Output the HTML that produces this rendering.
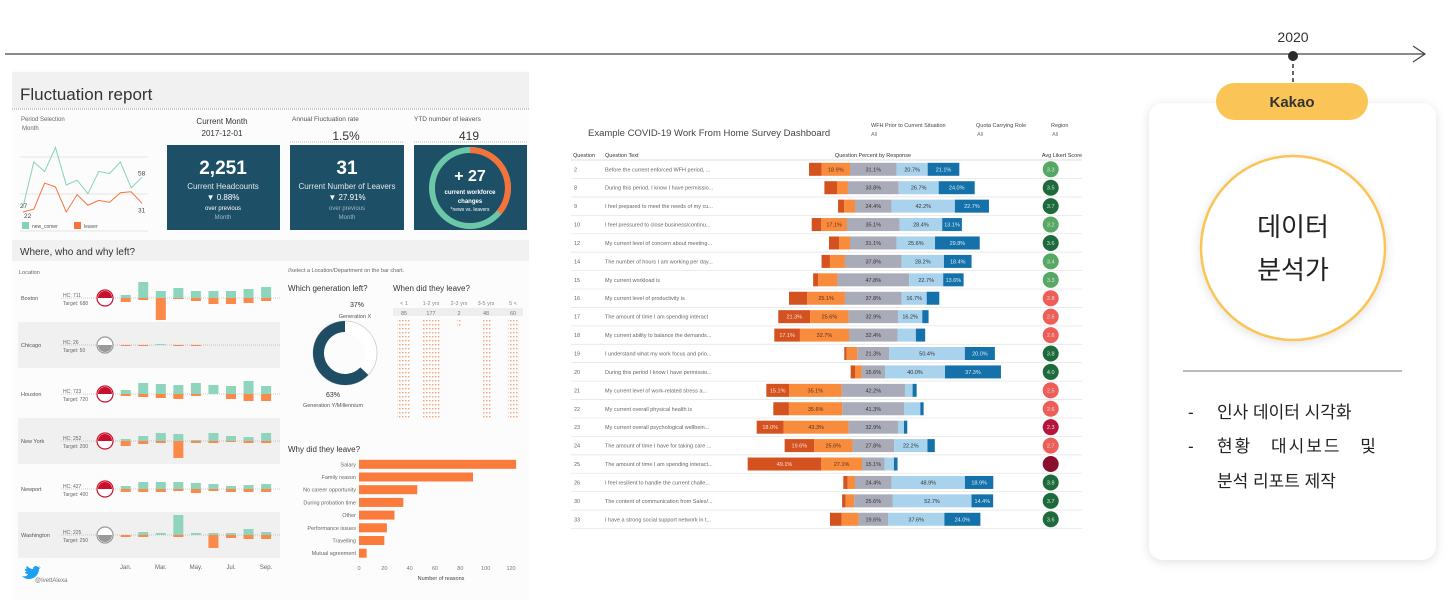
<!DOCTYPE html>
<html><head><meta charset="utf-8">
<style>
html,body{margin:0;padding:0;background:#fff;width:1448px;height:609px;overflow:hidden}
svg{display:block;font-family:"Liberation Sans","Noto Sans CJK KR",sans-serif}
.k{font-family:"Liberation Sans","Noto Sans CJK KR",sans-serif}
</style></head>
<body>
<svg id="s" width="1448" height="609" viewBox="0 0 1448 609" xmlns="http://www.w3.org/2000/svg">
<defs>
<filter id="sh" x="-10%" y="-10%" width="120%" height="120%"><feDropShadow dx="0" dy="2" stdDeviation="5" flood-color="#000" flood-opacity="0.12"/></filter>
<pattern id="dots" width="3" height="4" patternUnits="userSpaceOnUse"><rect width="1.4" height="1.4" fill="#f4a27a"/></pattern>
</defs>
<g>
<line x1="5" y1="54" x2="1425" y2="54" stroke="#444" stroke-width="1.2"/>
<polyline points="1413,46 1425,54 1413,62" fill="none" stroke="#444" stroke-width="1.2"/>
<line x1="1293" y1="57" x2="1293" y2="84" stroke="#333" stroke-width="1.5" stroke-dasharray="4,3"/>
<circle cx="1293" cy="56" r="5" fill="#2b2b2b"/>
<text x="1293" y="42" font-size="14" text-anchor="middle" fill="#333">2020</text>
</g>
<g>
<rect x="1149" y="103" width="287" height="457" rx="14" fill="#fff" filter="url(#sh)"/>
<rect x="1216" y="83" width="152" height="37" rx="18.5" fill="#fbc457"/>
<text x="1292" y="107" font-size="15" font-weight="bold" text-anchor="middle" fill="#333">Kakao</text>
<circle cx="1293" cy="248" r="92" fill="#fff" stroke="#fbc457" stroke-width="2.5" filter="url(#sh)"/>
<text x="1293" y="236" font-size="26" text-anchor="middle" fill="#222" class="k">데이터</text>
<text x="1293" y="279" font-size="26" text-anchor="middle" fill="#222" class="k">분석가</text>
<line x1="1183" y1="371" x2="1402" y2="371" stroke="#777" stroke-width="1"/>
<text x="1188" y="418" font-size="17" fill="#222" class="k">-</text>
<text x="1217" y="418" font-size="17" fill="#222" class="k">인사 데이터 시각화</text>
<text x="1188" y="452" font-size="17" fill="#222" class="k">-</text>
<text x="1217" y="452" font-size="17" fill="#222" class="k" word-spacing="12" letter-spacing="2">현황 대시보드 및</text>
<text x="1217" y="487" font-size="17" fill="#222" class="k">분석 리포트 제작</text>
</g>
<g id="left">
<rect x="12" y="70" width="517" height="530" fill="#fcfcfc"/>
<rect x="12" y="72" width="517" height="36" fill="#f1f1f2"/>
<text x="20" y="100" font-size="17" fill="#333">Fluctuation report</text>
<line x1="12" y1="109" x2="529" y2="109" stroke="#999" stroke-dasharray="1,1"/>
<text x="21" y="121" font-size="6" fill="#666">Period Selection</text>
<text x="22" y="130" font-size="6" fill="#666">Month</text>
<text x="222" y="124" font-size="8" fill="#333" text-anchor="middle">Current Month</text>
<text x="222" y="136" font-size="8" fill="#333" text-anchor="middle">2017-12-01</text>
<text x="292" y="121" font-size="6.5" fill="#555">Annual Fluctuation rate</text>
<text x="346" y="140" font-size="12" fill="#333" text-anchor="middle">1.5%</text>
<text x="414" y="121" font-size="6.5" fill="#555">YTD number of leavers</text>
<text x="469" y="140" font-size="12" fill="#333" text-anchor="middle">419</text>
<line x1="290" y1="142" x2="404" y2="142" stroke="#bbb" stroke-dasharray="1,1"/>
<line x1="414" y1="142" x2="527" y2="142" stroke="#bbb" stroke-dasharray="1,1"/>
<g>
<rect x="167" y="145" width="113" height="85" fill="#1d4f67"/>
<text x="223" y="174" font-size="19" font-weight="bold" fill="#fff" text-anchor="middle">2,251</text>
<text x="223" y="189" font-size="8" fill="#dfe9ee" text-anchor="middle">Current Headcounts</text>
<text x="223" y="200" font-size="8" fill="#fff" text-anchor="middle">▼ 0.88%</text>
<text x="223" y="210" font-size="6" fill="#fff" text-anchor="middle">over previous</text>
<text x="223" y="219" font-size="6" fill="#9fb8c6" text-anchor="middle">Month</text>
</g>
<g>
<rect x="290" y="145" width="114" height="85" fill="#1d4f67"/>
<text x="347" y="174" font-size="19" font-weight="bold" fill="#fff" text-anchor="middle">31</text>
<text x="347" y="189" font-size="8" fill="#dfe9ee" text-anchor="middle">Current Number of Leavers</text>
<text x="347" y="200" font-size="8" fill="#fff" text-anchor="middle">▼ 27.91%</text>
<text x="347" y="210" font-size="6" fill="#9fb8c6" text-anchor="middle">over previous</text>
<text x="347" y="219" font-size="6" fill="#9fb8c6" text-anchor="middle">Month</text>
</g>
<g>
<rect x="414" y="145" width="113" height="85" fill="#1d4f67"/>
<circle cx="470" cy="188" r="38" fill="none" stroke="#6cc7a6" stroke-width="6"/>
<path d="M470 150 A38 38 0 0 1 499 212.5" fill="none" stroke="#f5733a" stroke-width="6"/>
<text x="470" y="181" font-size="16" font-weight="bold" fill="#fff" text-anchor="middle">+ 27</text>
<text x="470" y="194" font-size="6" font-weight="bold" fill="#fff" text-anchor="middle">current workforce</text>
<text x="470" y="203" font-size="6" font-weight="bold" fill="#fff" text-anchor="middle">changes</text>
<text x="470" y="211" font-size="5" fill="#fff" text-anchor="middle">*news vs. leavers</text>
</g>
<g id="linechart"></g>
<rect x="12" y="240" width="517" height="21" fill="#f1f1f2"/>
<text x="20" y="255" font-size="10" fill="#333">Where, who and why left?</text>
<text x="19" y="274" font-size="5.5" fill="#666">Location</text>
<g id="loc"></g>
<text x="288" y="272" font-size="5.5" fill="#666">//select a Location/Department on the bar chart.</text>
<text x="288" y="291" font-size="8" fill="#333">Which generation left?</text>
<g>
<circle cx="345" cy="353" r="26" fill="none" stroke="#fff" stroke-width="12"/>
<circle cx="345" cy="353" r="32" fill="none" stroke="#ccc" stroke-width="0.8"/>
<path id="gendonut" fill="#1e4d64"/>
<text x="357" y="307" font-size="7" fill="#333" text-anchor="middle">37%</text>
<text x="355" y="318" font-size="5.5" fill="#555" text-anchor="middle">Generation X</text>
<text x="333" y="397" font-size="7" fill="#333" text-anchor="middle">63%</text>
<text x="333" y="407" font-size="5.5" fill="#555" text-anchor="middle">Generation Y/Millennium</text>
</g>
<text x="393" y="291" font-size="8" fill="#333">When did they leave?</text>
<g id="tenure"></g>
<text x="288" y="452" font-size="8" fill="#333">Why did they leave?</text>
<g id="why"></g>
<path d="M22 576 c3 1 5 0 6-2 c-2 0 -3-1 -3-2 c1 0 1 0 2 0 c-2-1-2-2-2-3 c1 0 1 0 2 1 c-1-1-1-3 0-4 c2 2 4 3 6 3 c0-3 3-4 5-2 c1 0 2-1 2-1 c0 1-1 1-1 2 c1 0 1 0 2-1 c0 1-1 1-2 2 c0 5-4 10-10 10 c-3 0-5-1-7-3z" fill="#1da1f2"/>
<text x="35" y="582" font-size="6" fill="#777">@IvettAlexa</text>
</g>
<g id="covid">
<text x="588" y="136" font-size="9.5" fill="#444">Example COVID-19 Work From Home Survey Dashboard</text>
<text x="871" y="127" font-size="5.5" fill="#444">WFH Prior to Current Situation</text>
<text x="871" y="136" font-size="5.5" fill="#777">All</text>
<text x="976" y="127" font-size="5.5" fill="#444">Quota Carrying Role</text>
<text x="977" y="136" font-size="5.5" fill="#777">All</text>
<text x="1051" y="127" font-size="5.5" fill="#444">Region</text>
<text x="1052" y="136" font-size="5.5" fill="#777">All</text>
<text x="573" y="157" font-size="5.5" fill="#333">Question</text>
<text x="605" y="157" font-size="5.5" fill="#333">Question Text</text>
<text x="873" y="157" font-size="5.5" fill="#333" text-anchor="middle">Question Percent by Response</text>
<text x="1062" y="157" font-size="5.5" fill="#333" text-anchor="middle">Avg Likert Score</text>
</g>
</svg>
<script>
const qIds=[2,8,9,10,12,14,15,16,17,18,19,20,21,22,23,24,25,26,30,33];
const qTexts=["Before the current enforced WFH period, ...","During this period, I know I have permissio...","I feel prepared to meet the needs of my cu...","I feel pressured to close business/continu...","My current level of concern about meeting...","The number of hours I am working per day...","My current workload is","My current level of productivity is","The amount of time I am spending interact","My current ability to balance the demands...","I understand what my work focus and prio...","During this period I know I have permissio...","My current level of work-related stress a...","My current overall physical health is","My current overall psychological wellbein...","The amount of time I have for taking care ...","The amount of time I am spending interact...","I feel resilient to handle the current challe...","The content of communication from Sales/...","I have a strong social support network in t..."];
const strongNeg=[8.4,8.4,4.0,6.4,6.7,5.6,3.3,12.2,21.3,17.1,1.6,2.9,15.1,10.4,18.0,19.6,49.1,2.9,2.4,7.8];
const negative=[18.9,7.3,7.3,17.1,7.3,10.0,12.9,25.1,25.6,32.7,7.1,4.4,35.1,35.6,43.3,25.6,27.1,4.9,5.6,11.3];
const neutral=[31.1,33.8,24.4,35.1,31.1,37.8,47.8,37.8,32.9,32.4,21.3,15.6,42.2,41.3,32.9,27.8,15.1,24.4,25.6,19.6];
const positive=[20.7,26.7,42.2,28.4,25.6,28.2,22.7,16.7,16.2,12.2,50.4,40.0,5.1,10.7,4.0,22.2,6.2,48.9,52.7,37.6];
const strongPos=[21.1,24.0,22.7,13.1,29.8,18.4,13.6,8.4,4.2,6.2,20.0,37.3,2.7,2.2,2.2,4.9,2.4,18.9,14.4,24.0];
const likert=[3.3,3.5,3.7,3.2,3.6,3.4,3.3,2.8,2.6,2.6,3.8,4.0,2.5,2.6,2.3,2.7,2.0,3.8,3.7,3.6];
const locations=["Boston","Chicago","Houston","New York","Newport","Washington"];
const locHC=[711,26,723,252,427,225];
const locTarget=[688,50,720,200,400,250];
const monthLabels=["Jan.","","Mar.","","May.","","Jul.","","Sep."];
const newcomers=[[3,16,7,10,7,7,7,9,11],[0,0,1,0,0,0,0,0,0],[4,11,10,9,11,9,8,13,8],[2,5,8,7,1,8,5,4,8],[3,7,7,7,6,5,3,4,5],[0,3,2,20,2,2,2,6,3]];
const leavers=[[4,2,22,1,3,6,6,5,3],[1,1,0,1,1,0,0,0,0],[2,3,4,5,2,0,5,7,7],[5,3,2,17,2,2,1,2,2],[3,3,3,2,4,2,3,3,3],[2,2,0,2,0,13,3,4,4]];
const newComerSeries=[27,74,64,89,50,55,41,64,62,74,47,58];
const leaverSeries=[22,25,52,48,22,40,29,34,32,42,43,31];
const reasons=["Salary","Family reason","No career opportunity","During probation time","Other","Performance issues","Travelling","Mutual agreement"];
const reasonCounts=[124,90,46,35,28,22,20,6];
const reasonTicks=[0,20,40,60,80,100,120];
const genShares=[37,63];
const tenureLabels=["< 1","1-2 yrs","2-3 yrs","3-5 yrs","5 <"];
const tenureCounts=[85,177,2,48,60];

const NS="http://www.w3.org/2000/svg";
function mk(parent,tag,attrs,txt){const e=document.createElementNS(NS,tag);for(const k in attrs)e.setAttribute(k,attrs[k]);if(txt!==undefined)e.textContent=txt;parent.appendChild(e);return e;}

(function(){
  const g=document.getElementById('covid');
  const cx=873.3, pxPer=1.5, y0=169.3, dy=18.42, bh=13;
  const xs=v=>v*pxPer;
  const cols=['#d3521f','#f88b3c','#a9abb9','#a9d2ec','#1571aa'];
  const txtCol=['#fbe0d3','#5a3020','#333','#333','#d9ecf8'];
  const segNames=['strongly-negative','negative','neutral','positive','strongly-positive'];
  mk(g,'line',{x1:571,y1:160,x2:1082,y2:160,stroke:'#ddd'});
  qIds.forEach((q,i)=>{
    const y=y0+i*dy;
    const vals=[strongNeg[i],negative[i],neutral[i],positive[i],strongPos[i]];
    mk(g,'line',{x1:571,y1:y+dy/2,x2:1082,y2:y+dy/2,stroke:'#e6e6e6','stroke-width':0.8});
    const t1=mk(g,'text',{x:574,y:y+2,'font-size':5.5,fill:'#666'},String(q));
    
    
    const t2=mk(g,'text',{x:605,y:y+2,'font-size':5.5,fill:'#666'},qTexts[i]);
    
    
    let x=cx-xs(vals[0]+vals[1]+vals[2]/2);
    vals.forEach((v,j)=>{
      const r=mk(g,'rect',{x:x,y:y-bh/2,width:xs(v),height:bh,fill:cols[j]});
      
      
      if(v>=13){mk(g,'text',{x:x+xs(v)/2,y:y+2,'font-size':5.5,fill:txtCol[j],'text-anchor':'middle'},v.toFixed(1)+'%');}
      x+=xs(v);
    });
    const s=likert[i];
    const c=s>=3.5?'#1e6a3d':s>=3.0?'#57a864':s>=2.5?'#ee5d57':s>=2.2?'#b6143d':'#8a0f2c';
    const ci=mk(g,'circle',{cx:1050.7,cy:y,r:8,fill:c});
    
    
    if(s>2.1) mk(g,'text',{x:1050.7,y:y+2,'font-size':5.5,fill:'#cfe8d5','text-anchor':'middle'},s.toFixed(1));
  });
})();

(function(){
  const g=document.getElementById('linechart');
  const x0=23,x1=142;
  const xp=i=>x0+i*(x1-x0)/(newComerSeries.length-1);
  const yp=v=>203.3-(v-31)*0.963;
  mk(g,'line',{x1:20,y1:157,x2:148,y2:157,stroke:'#e3e3e3'});
  mk(g,'line',{x1:20,y1:194,x2:148,y2:194,stroke:'#e3e3e3'});
  mk(g,'line',{x1:20,y1:231,x2:148,y2:231,stroke:'#e3e3e3'});
  const l1=mk(g,'polyline',{points:newComerSeries.map((v,i)=>xp(i)+','+yp(v)).join(' '),fill:'none',stroke:'#86d2b9','stroke-width':1});
  
  
  const l2=mk(g,'polyline',{points:leaverSeries.map((v,i)=>xp(i)+','+yp(v)).join(' '),fill:'none',stroke:'#f7733a','stroke-width':1});
  
  
  const n=newComerSeries.length-1;
  mk(g,'text',{x:xp(n)-4,y:yp(newComerSeries[n])-2,'font-size':6.5,fill:'#444'},String(newComerSeries[n]));
  mk(g,'text',{x:xp(n)-4,y:yp(leaverSeries[n])+9,'font-size':6.5,fill:'#444'},String(leaverSeries[n]));
  mk(g,'text',{x:20,y:yp(newComerSeries[0])+1,'font-size':6.5,fill:'#444'},String(newComerSeries[0]));
  mk(g,'text',{x:24,y:218,'font-size':6.5,fill:'#444'},String(leaverSeries[0]));
  const lg1=mk(g,'rect',{x:22,y:222,width:7,height:7,fill:'#86d2b9'});
  
  
  mk(g,'text',{x:32,y:228,'font-size':5,fill:'#555'},'new_comer');
  const lg2=mk(g,'rect',{x:74,y:222,width:7,height:7,fill:'#f7733a'});
  
  
  mk(g,'text',{x:84,y:228,'font-size':5,fill:'#555'},'leaver');
})();

(function(){
  const g=document.getElementById('loc');
  const bases=[298,345,394,441,489,535];
  const mx=i=>125.7+i*17.55;
  const grey=[false,true,false,true,false,true];
  const redCircle=[true,false,true,true,true,false];
  locations.forEach((loc,r)=>{
    const b=bases[r];
    if(grey[r]) mk(g,'rect',{x:18,y:b-23,width:262,height:46,fill:'#f0f0f0'});
    const t=mk(g,'text',{x:21,y:b+2,'font-size':5.5,fill:'#555'},loc);
    
    
    mk(g,'text',{x:63,y:b-1,'font-size':5,fill:'#666'},'HC: '+locHC[r]);
    mk(g,'text',{x:63,y:b+7,'font-size':5,fill:'#666'},'Target: '+locTarget[r]);
    mk(g,'line',{x1:61,y1:b,x2:280,y2:b,stroke:'#999','stroke-width':0.6,'stroke-dasharray':'1,1'});
    const col=redCircle[r]?'#c8102e':'#999';
    mk(g,'circle',{cx:105,cy:b,r:8,fill:'#fff',stroke:col,'stroke-width':1.2});
    const ci=mk(g,'path',{d:`M${98} ${b} A7 7 0 0 1 ${112} ${b} Z`,fill:col});
    if(!redCircle[r]) ci.setAttribute('d',`M${98} ${b} A7 7 0 0 0 ${112} ${b} Z`);
    
    
    newcomers[r].forEach((v,i)=>{
      const e=mk(g,'rect',{x:mx(i)-5,y:b-v,width:10,height:v,fill:'#8fd5bd'});
      
      
    });
    leavers[r].forEach((v,i)=>{
      const e=mk(g,'rect',{x:mx(i)-5,y:b,width:10,height:v,fill:'#fb8a4a'});
      
      
    });
  });
  monthLabels.forEach((m,i)=>{ if(m){mk(g,'text',{x:mx(i),y:569,'font-size':6,fill:'#666','text-anchor':'middle'},m);} });
})();

(function(){
  const cx=345,cy=353,ro=32,ri=21;
  const a0=0, a1=-genShares[1]/100*2*Math.PI;
  const p=(r,a)=>[cx+r*Math.sin(a),cy-r*Math.cos(a)];
  const [x1,y1]=p(ro,a0),[x2,y2]=p(ro,a1),[x3,y3]=p(ri,a1),[x4,y4]=p(ri,a0);
  const large=genShares[1]>50?1:0;
  const d=`M${x1} ${y1} A${ro} ${ro} 0 ${large} 0 ${x2} ${y2} L${x3} ${y3} A${ri} ${ri} 0 ${large} 1 ${x4} ${y4} Z`;
  const e=document.getElementById('gendonut');
  e.setAttribute('d',d);
  
  
})();

(function(){
  const g=document.getElementById('tenure');
  const xs=[404,431,459,486,513];
  mk(g,'rect',{x:393,y:308,width:130,height:8,fill:'#eee'});
  tenureLabels.forEach((l,i)=>{
    mk(g,'text',{x:xs[i],y:305,'font-size':5.5,fill:'#888','text-anchor':'middle'},l);
    const t=mk(g,'text',{x:xs[i],y:315,'font-size':5.5,fill:'#777','text-anchor':'middle'},String(tenureCounts[i]));
    
    
    const w=Math.max(3,Math.min(18,Math.ceil(tenureCounts[i]/10)*1.2+3));
    const h=tenureCounts[i]<5?6:100;
    const r=mk(g,'rect',{x:xs[i]-w/2,y:320,width:w,height:h,fill:'url(#dots)'});
    
    
  });
})();

(function(){
  const g=document.getElementById('why');
  const x0=359, k=1.267, y0=464.3, dy=12.7;
  const xs=v=>x0+v*k;
  reasons.forEach((r,i)=>{
    const y=y0+i*dy;
    mk(g,'text',{x:356,y:y+2,'font-size':5.5,fill:'#666','text-anchor':'end'},r);
    const b=mk(g,'rect',{x:x0,y:y-4.5,width:xs(reasonCounts[i])-x0,height:9,fill:'#fb7b3d'});
    
    
  });
  reasonTicks.forEach(t=>{ mk(g,'text',{x:xs(t),y:570,'font-size':5.5,fill:'#777','text-anchor':'middle'},String(t)); });
  mk(g,'text',{x:441,y:580,'font-size':5.5,fill:'#444','text-anchor':'middle'},'Number of reasons');
})();
</script>
</body></html>
